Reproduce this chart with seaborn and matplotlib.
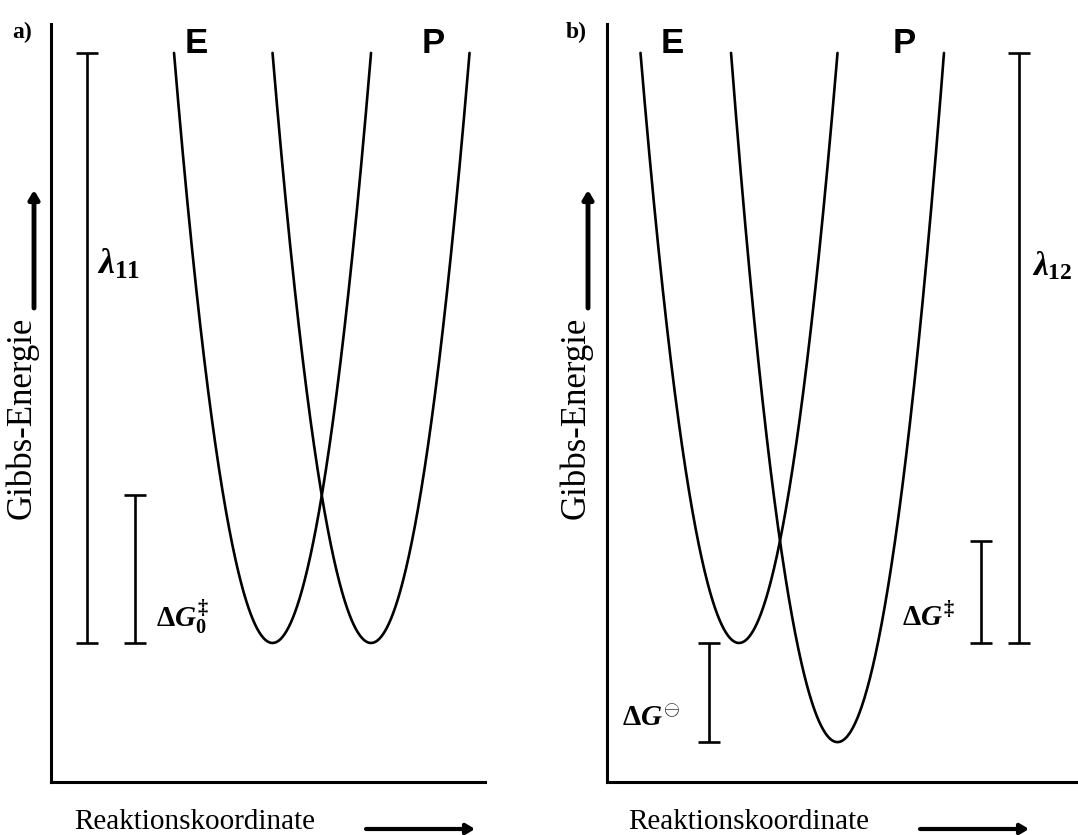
import numpy as np
import matplotlib
matplotlib.use("Agg")
import matplotlib.pyplot as plt
import seaborn as sns

# Marcus parameters (energies in units of the reorganisation energy)
lambda_11 = 1.0          # self-exchange reorganisation energy, panel a
lambda_12 = 1.0          # cross reaction reorganisation energy, panel b
dG0_self = 0.0           # symmetric self-exchange
dG0_cross = -0.168       # driving force of the cross reaction
q_products = 1.0         # product minimum on the reaction coordinate
state_labels = ["E", "P"]
panel_labels = ["a)", "b)"]
xlabel_text = "Reaktionskoordinate"
ylabel_text = "Gibbs-Energie"

sns.set_theme(style="white")
plt.rcParams["font.family"] = ["Liberation Serif", "DejaVu Serif"]
plt.rcParams["text.color"] = "black"
plt.rcParams["mathtext.fontset"] = "custom"
plt.rcParams["mathtext.rm"] = "Liberation Serif:bold"
plt.rcParams["mathtext.bf"] = "Liberation Serif:bold"
plt.rcParams["mathtext.it"] = "Liberation Serif:italic:bold"
plt.rcParams["mathtext.fallback"] = "cm"

W, H = 1078, 835
fig = plt.figure(figsize=(W / 100, H / 100), dpi=100)

ylim = (-0.2356, 1.049)
ax_a = fig.add_axes([51 / W, (H - 782) / H, (485 - 51) / W, (782 - 24) / H])
ax_b = fig.add_axes([607 / W, (H - 782) / H, (1076 - 607) / W, (782 - 24) / H])
ax_a.set_xlim(-2.249, 2.157)
ax_b.set_xlim(-1.340, 3.421)

LW = 1.9


def parabola(lam, q0, g0, gmax):
    """Sample a Marcus parabola G = lam*(q-q0)^2 + g0 up to energy gmax."""
    half = np.sqrt((gmax - g0) / lam)
    q = np.linspace(q0 - half, q0 + half, 400)
    return q, lam * (q - q0) ** 2 + g0


def bar(ax, x, y0, y1, w=0.112):
    ax.vlines(x, y0, y1, color="black", lw=LW)
    ax.hlines([y0, y1], x - w, x + w, color="black", lw=LW)


for ax, lam, dg in [(ax_a, lambda_11, dG0_self), (ax_b, lambda_12, dG0_cross)]:
    qe, ge = parabola(lam, 0.0, 0.0, lam)
    qp, gp = parabola(lam, q_products, dg, lam)
    sns.lineplot(x=qe, y=ge, ax=ax, color="black", lw=LW, sort=False)
    sns.lineplot(x=qp, y=gp, ax=ax, color="black", lw=LW, sort=False)
    ax.set_ylim(*ylim)
    ax.set_xticks([])
    ax.set_yticks([])
    ax.set_xlabel("")
    ax.set_ylabel("")
    for side in ["top", "right"]:
        ax.spines[side].set_visible(False)
    for side in ["left", "bottom"]:
        ax.spines[side].set_color("black")
        ax.spines[side].set_linewidth(2.2)
    ax.grid(False)

# activation energies
dGact_self = (lambda_11 + dG0_self) ** 2 / (4 * lambda_11)
dGact_cross = (lambda_12 + dG0_cross) ** 2 / (4 * lambda_12)

SANS = "Liberation Sans"

# panel a: reorganisation energy and intrinsic barrier
bar(ax_a, -1.883, 0.0, lambda_11)
bar(ax_a, -1.396, 0.0, dGact_self)
ax_a.text(-1.782, 0.64, r"$\lambda_{11}$", fontsize=26, ha="left", va="center")
ax_a.text(-1.183, 0.027, r"$\mathrm{\Delta}G^{\ddag}_{0}$", fontsize=21,
          ha="left", va="baseline")
ax_a.text(-0.777, 1.0, state_labels[0], fontsize=25, fontweight="bold",
          family=SANS, ha="center", va="baseline")
ax_a.text(1.635, 1.0, state_labels[1], fontsize=25, fontweight="bold",
          family=SANS, ha="center", va="baseline")

# panel b: driving force, barrier and reorganisation energy
bar(ax_b, -0.305, dG0_cross, 0.0)
bar(ax_b, 2.457, 0.0, dGact_cross)
bar(ax_b, 2.843, 0.0, lambda_12)
ax_b.text(-1.188, -0.141, r"$\mathrm{\Delta}G^{\ominus}$", fontsize=21,
          ha="left", va="baseline")
ax_b.text(1.655, 0.027, r"$\mathrm{\Delta}G^{\ddag}$", fontsize=21,
          ha="left", va="baseline")
ax_b.text(2.975, 0.64, r"$\lambda_{12}$", fontsize=24, ha="left", va="center")
ax_b.text(-0.675, 1.0, state_labels[0], fontsize=25, fontweight="bold",
          family=SANS, ha="center", va="baseline")
ax_b.text(1.675, 1.0, state_labels[1], fontsize=25, fontweight="bold",
          family=SANS, ha="center", va="baseline")


def fx(px):
    return px / W


def fy(py):
    return 1 - py / H


# panel letters, axis captions and direction arrows
for dx, letter in zip([0, 554], panel_labels):
    fig.text(fx(12 + dx), fy(38), letter, fontsize=17, fontweight="bold",
             ha="left", va="baseline")
    fig.text(fx(195 + dx), fy(829), xlabel_text, fontsize=21,
             ha="center", va="baseline")
    fig.text(fx(22 + dx), fy(418), ylabel_text, fontsize=25, rotation=90,
             ha="center", va="center")
    fig.add_artist(matplotlib.patches.FancyArrowPatch(
        (fx(366 + dx), fy(829)), (fx(475 + dx), fy(829)),
        transform=fig.transFigure, arrowstyle="-|>,head_length=5,head_width=3",
        lw=3.0, color="black", shrinkA=0, shrinkB=0))
    fig.add_artist(matplotlib.patches.FancyArrowPatch(
        (fx(34 + dx), fy(308)), (fx(34 + dx), fy(190)),
        transform=fig.transFigure, arrowstyle="-|>,head_length=5,head_width=3",
        lw=3.5, color="black", shrinkA=0, shrinkB=0))

fig.savefig("out.png", dpi=100, facecolor="white")
